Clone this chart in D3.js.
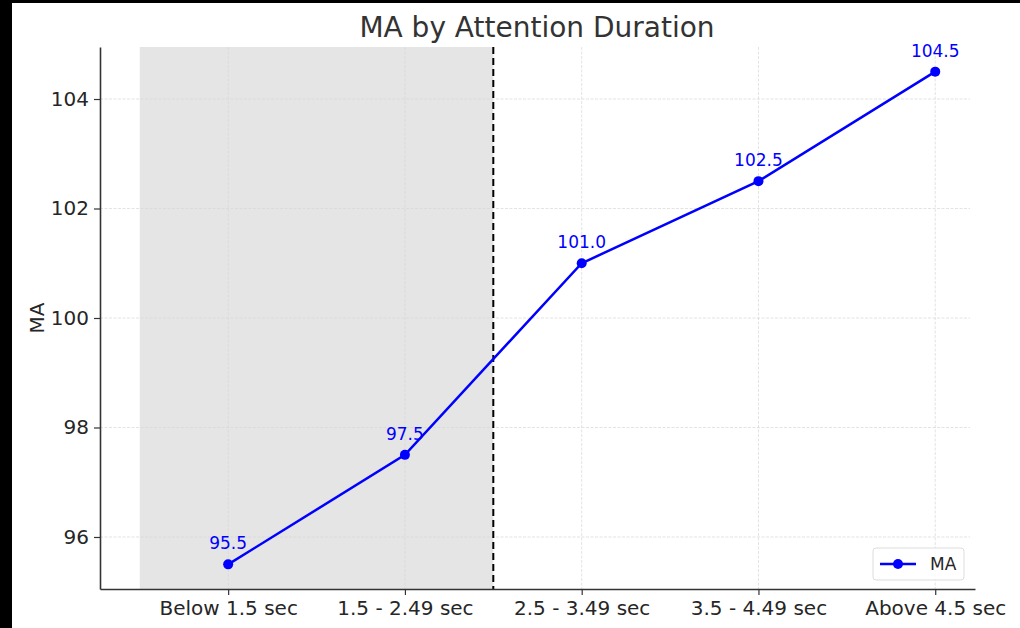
<!DOCTYPE html>
<html>
<head>
<meta charset="utf-8">
<script src="https://cdn.jsdelivr.net/npm/d3@7"></script>
<style>
  body { margin: 0; background: #fff; }
  svg { display: block; font-family: "DejaVu Sans", sans-serif; }
</style>
</head>
<body>
<div id="chart"></div>
<script>
// chart data
var categories = ["Below 1.5 sec", "1.5 - 2.49 sec", "2.5 - 3.49 sec", "3.5 - 4.49 sec", "Above 4.5 sec"];
var maValues = [95.5, 97.5, 101.0, 102.5, 104.5];
var yTicks = [96, 98, 100, 102, 104];
var shadeSpan = [-0.5, 1.5];
var cutoffIndex = 1.5;

function init() {
    var w = 1020, h = 628;
    var left = 100, right = 975, top = 47, bottom = 589;

    var svg = d3.select("#chart")
        .append("svg")
        .attr("width", w)
        .attr("height", h);

    svg.append("rect").attr("width", w).attr("height", h).attr("fill", "#fff");
    // dark frame bits at the edges of the screenshot
    svg.append("rect").attr("x", 0).attr("y", 0).attr("width", 12).attr("height", h).attr("fill", "#000");
    svg.append("rect").attr("x", 0).attr("y", 0).attr("width", w).attr("height", 3).attr("fill", "#000");

    // x is an index scale, padded like matplotlib does
    var x = d3.scaleLinear().domain([-0.725, 4.225]).range([left, right]);
    var y = d3.scaleLinear().domain([95.05, 104.95]).range([bottom, top]);

    // shaded span
    svg.append("rect")
        .attr("x", x(shadeSpan[0]))
        .attr("y", top)
        .attr("width", x(shadeSpan[1]) - x(shadeSpan[0]))
        .attr("height", bottom - top)
        .attr("fill", "#e5e5e5");

    // grid
    var grid = svg.append("g");
    grid.selectAll("line.h")
        .data(yTicks)
        .enter()
        .append("line")
        .attr("x1", left).attr("x2", right - 5)
        .attr("y1", function (d) { return y(d); })
        .attr("y2", function (d) { return y(d); })
        .attr("stroke", "#d8d8d8")
        .attr("stroke-width", 1)
        .attr("stroke-dasharray", "3,1.5")
        .attr("opacity", 0.7);
    grid.selectAll("line.v")
        .data(categories)
        .enter()
        .append("line")
        .attr("x1", function (d, i) { return x(i); })
        .attr("x2", function (d, i) { return x(i); })
        .attr("y1", top).attr("y2", bottom)
        .attr("stroke", "#d8d8d8")
        .attr("stroke-width", 1)
        .attr("stroke-dasharray", "3,1.5")
        .attr("opacity", 0.7);

    // cutoff line
    svg.append("line")
        .attr("x1", x(cutoffIndex)).attr("x2", x(cutoffIndex))
        .attr("y1", top).attr("y2", bottom)
        .attr("stroke", "#000")
        .attr("stroke-width", 2)
        .attr("stroke-dasharray", "7,4");

    // axes
    var xAxis = d3.axisBottom(x)
        .tickValues(d3.range(categories.length))
        .tickFormat(function (d) { return categories[d]; })
        .tickSize(6).tickSizeOuter(0);
    var yAxis = d3.axisLeft(y)
        .tickValues(yTicks)
        .tickSize(6).tickSizeOuter(0);

    var gx = svg.append("g").attr("transform", "translate(0," + bottom + ")").call(xAxis);
    var gy = svg.append("g").attr("transform", "translate(" + left + ",0)").call(yAxis);
    [gx, gy].forEach(function (g) {
        g.select(".domain").attr("stroke", "#333").attr("stroke-width", 1.6);
        g.selectAll(".tick line").attr("stroke", "#333").attr("stroke-width", 1.2);
        g.selectAll(".tick text").attr("fill", "#262626").attr("font-size", 20)
            .attr("font-family", "DejaVu Sans, sans-serif");
    });
    gx.selectAll(".tick text").attr("dy", "0.85em");
    gy.selectAll(".tick text").attr("dx", "-0.1em");

    // line + markers
    var line = d3.line()
        .x(function (d, i) { return x(i); })
        .y(function (d) { return y(d); });
    svg.append("path")
        .datum(maValues)
        .attr("d", line)
        .attr("fill", "none")
        .attr("stroke", "#0000ff")
        .attr("stroke-width", 2.5);
    svg.selectAll("circle.pt")
        .data(maValues)
        .enter()
        .append("circle")
        .attr("cx", function (d, i) { return x(i); })
        .attr("cy", function (d) { return y(d); })
        .attr("r", 5)
        .attr("fill", "#0000ff");
    svg.selectAll("text.val")
        .data(maValues)
        .enter()
        .append("text")
        .attr("x", function (d, i) { return x(i); })
        .attr("y", function (d) { return y(d) - 15; })
        .attr("text-anchor", "middle")
        .attr("fill", "#0000ff")
        .attr("font-size", 17)
        .text(function (d) { return d.toFixed(1); });

    // title and y label
    svg.append("text")
        .attr("x", 537).attr("y", 37)
        .attr("text-anchor", "middle")
        .attr("font-size", 28)
        .attr("fill", "#333")
        .text("MA by Attention Duration");
    svg.append("text")
        .attr("transform", "translate(44," + y(100) + ") rotate(-90)")
        .attr("text-anchor", "middle")
        .attr("font-size", 20)
        .attr("fill", "#262626")
        .text("MA");

    // legend
    var lg = svg.append("g").attr("transform", "translate(873,548)");
    lg.append("rect")
        .attr("width", 91).attr("height", 32).attr("rx", 3)
        .attr("fill", "#fff").attr("fill-opacity", 0.8)
        .attr("stroke", "#ddd");
    lg.append("line")
        .attr("x1", 7).attr("x2", 43).attr("y1", 16).attr("y2", 16)
        .attr("stroke", "#0000ff").attr("stroke-width", 2.5);
    lg.append("circle").attr("cx", 25).attr("cy", 16).attr("r", 5).attr("fill", "#0000ff");
    lg.append("text")
        .attr("x", 57).attr("y", 22)
        .attr("font-size", 17)
        .attr("fill", "#262626")
        .text("MA");
}

window.onload = init;
</script>
</body>
</html>
